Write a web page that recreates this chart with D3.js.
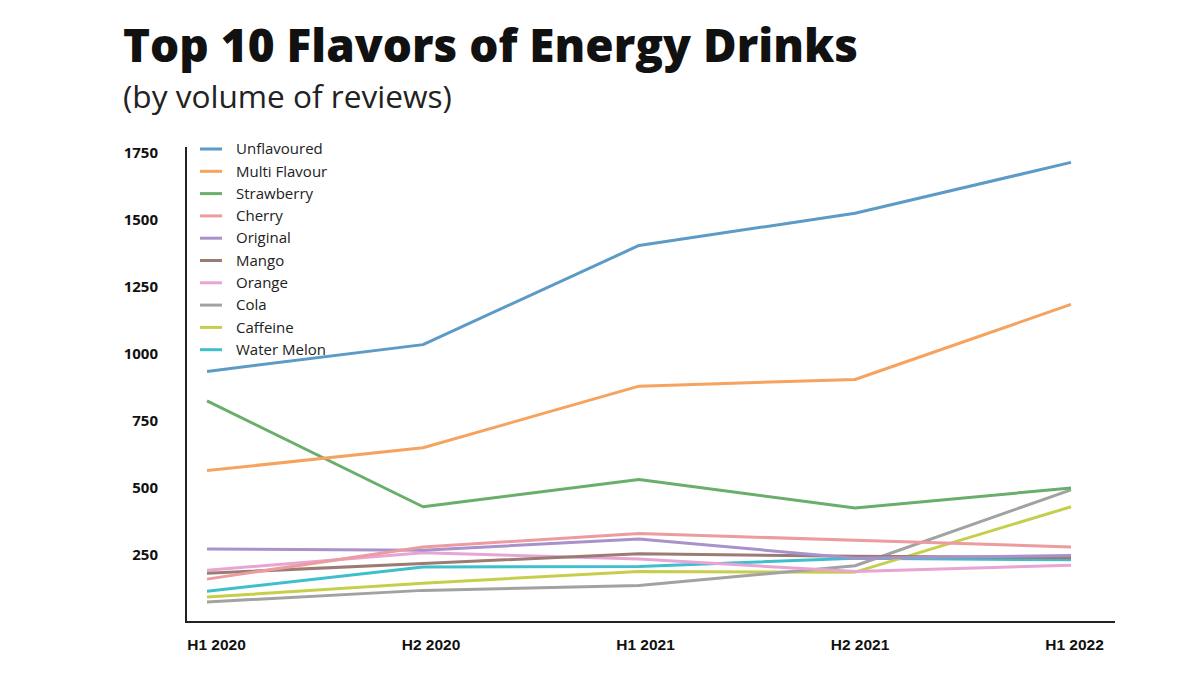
<!DOCTYPE html>
<html><head><meta charset="utf-8">
<script src="https://cdn.jsdelivr.net/npm/d3@7"></script>
<style>body{margin:0;background:#fff;}svg{display:block;}</style>
</head><body>
<svg id="c" width="1185" height="673"></svg>
<script>
const periods = ["H1 2020", "H2 2020", "H1 2021", "H2 2021", "H1 2022"];
const seriesNames = ["Unflavoured","Multi Flavour","Strawberry","Cherry","Original","Mango","Orange","Cola","Caffeine","Water Melon"];
const unflavoured = [935, 1035, 1405, 1525, 1715];
const multiFlavour = [565, 650, 880, 905, 1185];
const strawberry = [825, 430, 532, 425, 500];
const cherry = [160, 280, 330, 305, 280];
const original = [272, 268, 310, 238, 248];
const mango = [182, 218, 255, 245, 240];
const orange = [193, 258, 235, 188, 212];
const cola = [75, 118, 136, 210, 493];
const caffeine = [93, 145, 188, 186, 430];
const waterMelon = [115, 205, 207, 238, 232];
const yTicks = [250, 500, 750, 1000, 1250, 1500, 1750];
const colors = ["#5b9bc6","#f5a35e","#6aae6b","#ec9b9f","#a991cc","#9b7b74","#e8a5d4","#a2a2a2","#c6cf4c","#3fbfcb"];
const values = [unflavoured, multiFlavour, strawberry, cherry, original, mango, orange, cola, caffeine, waterMelon];

const svg = d3.select("#c");
const x = d3.scalePoint().domain(periods).range([207, 1071]);
const xLab = d3.scalePoint().domain(periods).range([216, 1074]);
const y = d3.scaleLinear().domain([0, 1750]).range([622, 153]);

// title
const title = svg.append("text").attr("x", 123).attr("y", 62)
  .style("font-family", "'Open Sans', sans-serif").style("font-weight", 800)
  .style("font-size", "47px").attr("fill", "#111").text("Top 10 Flavors of Energy Drinks");
const tw = title.node().getComputedTextLength();
title.style("font-size", (47 * 735 / tw) + "px");
const sub = svg.append("text").attr("x", 123).attr("y", 108)
  .style("font-family", "'Open Sans', sans-serif").style("font-weight", 400)
  .style("font-size", "28px").attr("fill", "#222").text("(by volume of reviews)");
const sw = sub.node().getComputedTextLength();
sub.style("font-size", (28 * 329 / sw) + "px");

// y axis
const yAxis = d3.axisLeft(y).tickValues(yTicks).tickFormat(d3.format("d")).tickSize(0).tickPadding(28);
const gy = svg.append("g").attr("transform", "translate(186,0)").call(yAxis);
gy.select(".domain").remove();
gy.selectAll("text").style("font-family", "'Open Sans', sans-serif").style("font-weight", 700)
  .style("font-size", "15px").attr("fill", "#111");

svg.append("line").attr("x1", 186).attr("x2", 186).attr("y1", 147).attr("y2", 623)
  .attr("stroke", "#222").attr("stroke-width", 2);
svg.append("line").attr("x1", 185).attr("x2", 1115).attr("y1", y(0)).attr("y2", y(0))
  .attr("stroke", "#222").attr("stroke-width", 2.2);

// x axis labels
const xAxis = d3.axisBottom(xLab).tickSize(0).tickPadding(17);
const gx = svg.append("g").attr("transform", `translate(0,${y(0)})`).call(xAxis);
gx.select(".domain").remove();
gx.selectAll("text").style("font-family", "'Liberation Sans Narrow', 'Arial Narrow', 'Liberation Sans', sans-serif")
  .style("font-weight", 700).style("font-size", "15.5px").attr("fill", "#111");

// lines
const line = d3.line().x((d, i) => x(periods[i])).y(d => y(d));
const order = [9,8,7,6,5,4,3,2,1,0];
order.forEach(k => {
  svg.append("path").datum(values[k]).attr("d", line).attr("fill", "none")
    .attr("stroke", colors[k]).attr("stroke-width", 3).attr("stroke-linejoin", "round");
});

// legend
const lg = svg.append("g");
seriesNames.forEach((n, i) => {
  const yy = 149 + i * 22.3;
  lg.append("line").attr("x1", 200).attr("x2", 222).attr("y1", yy).attr("y2", yy)
    .attr("stroke", colors[i]).attr("stroke-width", 3);
  lg.append("text").attr("x", 236).attr("y", yy).attr("dy", "0.35em")
    .style("font-family", "'Open Sans', sans-serif").style("font-size", "15px")
    .attr("fill", "#222").text(n);
});
</script>
</body></html>
